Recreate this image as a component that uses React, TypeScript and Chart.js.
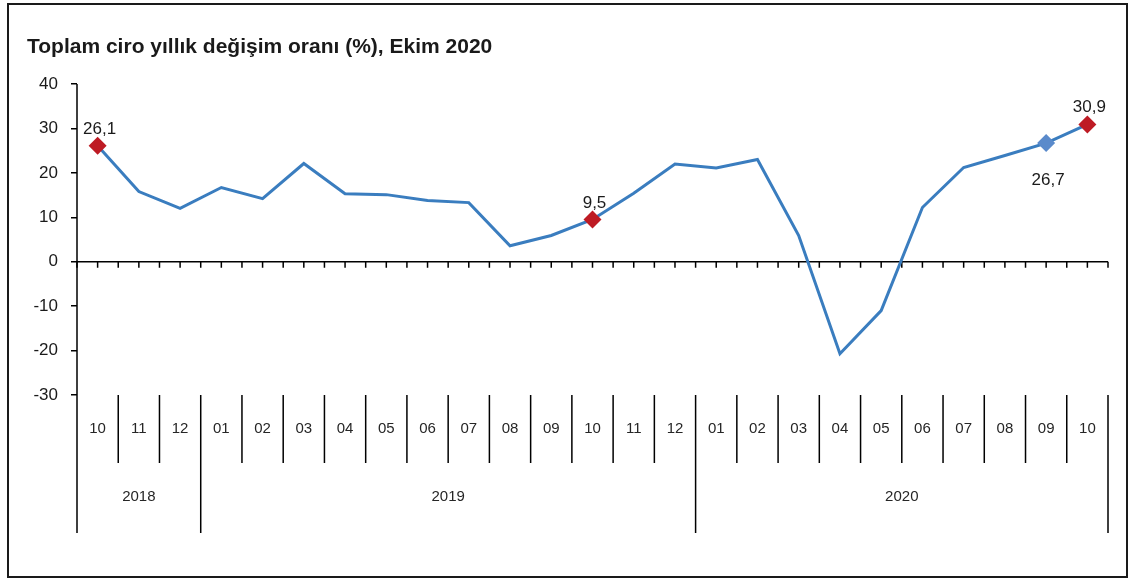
import React, { useEffect, useRef } from "react";
import { Chart, registerables } from "chart.js";

Chart.register(...registerables);

const titleText = "Toplam ciro yıllık değişim oranı (%), Ekim 2020";
const months = ["10", "11", "12", "01", "02", "03", "04", "05", "06", "07", "08", "09", "10", "11", "12", "01", "02", "03", "04", "05", "06", "07", "08", "09", "10"];
const years = ["2018", "2019", "2020"];
const yearSpans = [3, 12, 10];
const values = [26.1, 15.8, 12.0, 16.7, 14.2, 22.1, 15.3, 15.1, 13.8, 13.3, 3.6, 5.9, 9.5, 15.4, 22.0, 21.1, 23.0, 5.9, -20.7, -11.0, 12.2, 21.2, 23.9, 26.7, 30.9];
const redPoints = [0, 12, 24];
const bluePoints = [23];
const labelAbove = [0, 12, 24];
const labelBelow = [23];
const yMin = -30;
const yMax = 40;
const yStep = 10;

const FONT = "'Liberation Sans', Arial, sans-serif";
const LINE_COLOR = "#3A7DBF";
const RED = "#BE1B24";
const BLUE = "#5A8ACB";
const TEXT = "#1a1a1a";

const fmt = (v: number) => v.toFixed(1).replace(".", ",");

const decorPlugin = {
  id: "decor",
  beforeDraw(chart: any) {
    const { ctx, width, height } = chart;
    ctx.save();
    ctx.fillStyle = "#ffffff";
    ctx.fillRect(0, 0, width, height);
    ctx.strokeStyle = "#1a1a1a";
    ctx.lineWidth = 2;
    ctx.strokeRect(8, 4, 1119, 573);
    ctx.fillStyle = TEXT;
    ctx.font = `bold 21px ${FONT}`;
    ctx.textAlign = "left";
    ctx.textBaseline = "alphabetic";
    ctx.fillText(titleText, 27, 53);
    ctx.restore();
  },
  beforeDatasetsDraw(chart: any) {
    const { ctx, chartArea } = chart;
    const y = chart.scales.y;
    const y0 = y.getPixelForValue(0);
    const n = months.length;
    const w = (chartArea.right - chartArea.left) / n;
    ctx.save();
    ctx.strokeStyle = "#000";
    ctx.lineWidth = 1.5;
    ctx.beginPath();
    ctx.moveTo(chartArea.left, y0);
    ctx.lineTo(chartArea.right, y0);
    for (let i = 0; i <= n * 2; i++) {
      const x = chartArea.left + (i * w) / 2;
      ctx.moveTo(x, y0);
      ctx.lineTo(x, y0 + 6);
    }
    ctx.stroke();
    ctx.restore();
  },
  afterDraw(chart: any) {
    const { ctx, chartArea } = chart;
    const xs = chart.scales.x;
    const n = months.length;
    const w = (chartArea.right - chartArea.left) / n;
    const top = chartArea.bottom;
    const monthBottom = 463;
    const yearBottom = 533;
    ctx.save();
    ctx.strokeStyle = "#000";
    ctx.lineWidth = 1.5;
    ctx.beginPath();
    ctx.moveTo(chartArea.left, chartArea.top);
    ctx.lineTo(chartArea.left, yearBottom);
    const yearEdges: number[] = [];
    let acc = 0;
    yearSpans.forEach((s) => {
      acc += s;
      yearEdges.push(acc);
    });
    for (let i = 1; i <= n; i++) {
      const x = chartArea.left + i * w;
      ctx.moveTo(x, top);
      ctx.lineTo(x, yearEdges.includes(i) ? yearBottom : monthBottom);
    }
    ctx.stroke();

    ctx.fillStyle = "#262626";
    ctx.font = `15px ${FONT}`;
    ctx.textAlign = "center";
    ctx.textBaseline = "middle";
    months.forEach((m, i) => {
      ctx.fillText(m, xs.getPixelForValue(i), 429);
    });
    let start = 0;
    years.forEach((yr, k) => {
      const end = start + yearSpans[k];
      const cx = chartArea.left + ((start + end) / 2) * w;
      ctx.fillText(yr, cx, 497);
      start = end;
    });

    const meta = chart.getDatasetMeta(0);
    ctx.fillStyle = TEXT;
    ctx.font = `17px ${FONT}`;
    ctx.textBaseline = "alphabetic";
    labelAbove.forEach((i) => {
      const p = meta.data[i];
      ctx.fillText(fmt(values[i]), p.x + 2, p.y - 12);
    });
    labelBelow.forEach((i) => {
      const p = meta.data[i];
      ctx.fillText(fmt(values[i]), p.x + 2, p.y + 42);
    });
    ctx.restore();
  },
};

export default function App() {
  const ref = useRef<HTMLCanvasElement>(null);
  useEffect(() => {
    if (!ref.current) return;
    const pointColors = values.map((_, i) =>
      redPoints.includes(i) ? RED : bluePoints.includes(i) ? BLUE : LINE_COLOR
    );
    const pointRadius = values.map((_, i) => (redPoints.includes(i) || bluePoints.includes(i) ? 9 : 0));
    const chart = new Chart(ref.current, {
      type: "line",
      data: {
        labels: months,
        datasets: [
          {
            data: values,
            borderColor: LINE_COLOR,
            borderWidth: 3,
            tension: 0,
            pointStyle: "rectRot",
            pointRadius,
            pointHoverRadius: pointRadius,
            pointBackgroundColor: pointColors,
            pointBorderColor: pointColors,
            pointBorderWidth: 0,
          },
        ],
      },
      options: {
        responsive: false,
        animation: false,
        events: [],
        layout: { padding: { left: 0, right: 24, top: 84, bottom: 188 } },
        plugins: { legend: { display: false }, tooltip: { enabled: false }, title: { display: false } },
        scales: {
          x: { display: false, offset: true },
          y: {
            min: yMin,
            max: yMax,
            afterFit: (s: any) => {
              s.width = 77;
            },
            ticks: {
              stepSize: yStep,
              color: TEXT,
              font: { family: FONT, size: 17 },
              padding: 13,
            },
            border: { display: false },
            grid: {
              drawOnChartArea: false,
              drawTicks: true,
              tickLength: 6,
              color: "#000",
              lineWidth: 1.5,
            },
          },
        },
      },
      plugins: [decorPlugin],
    });
    return () => chart.destroy();
  }, []);
  return (
    <div style={{ position: "fixed", left: 0, top: 0, width: 1132, height: 583, background: "#fff" }}>
      <canvas ref={ref} width={1132} height={583} style={{ display: "block" }} />
    </div>
  );
}
